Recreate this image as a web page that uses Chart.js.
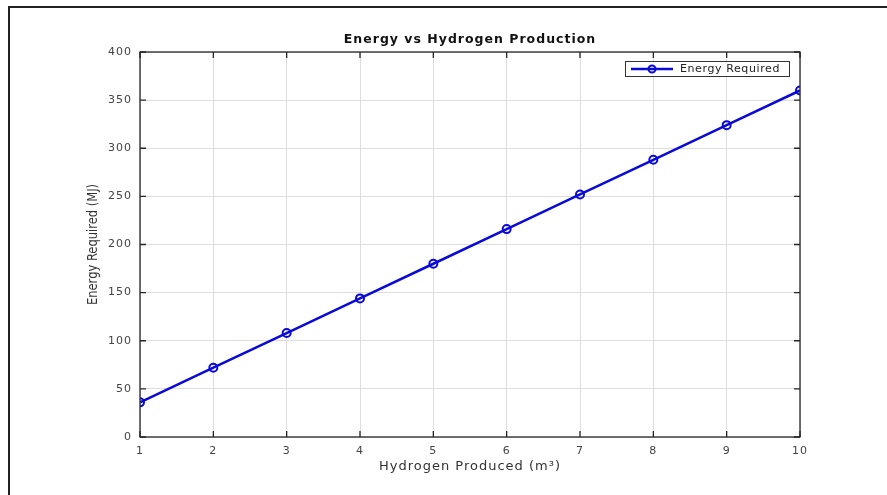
<!DOCTYPE html>
<html>
<head>
<meta charset="utf-8">
<script src="https://cdn.jsdelivr.net/npm/chart.js@4.4.1/dist/chart.umd.min.js"></script>
<style>
    html, body { margin: 0; padding: 0; background: #ffffff; }
    #wrap { width: 887px; height: 495px; }
</style>
</head>
<body>
<div id="wrap"><canvas id="energyChart" width="887" height="495"></canvas></div>
<script>
// Données
const hydrogenProduced = [1, 2, 3, 4, 5, 6, 7, 8, 9, 10];
const energyRequired = [36, 72, 108, 144, 180, 216, 252, 288, 324, 360];
const seriesLabel = 'Energy Required';
const xTicks = [1, 2, 3, 4, 5, 6, 7, 8, 9, 10];
const yTicks = [0, 50, 100, 150, 200, 250, 300, 350, 400];
const chartTitle = 'Energy vs Hydrogen Production';
const xTitle = 'Hydrogen Produced (m³)';
const yTitle = 'Energy Required (MJ)';

const lineBlue = '#0a0ad8';
const fontFamily = '"DejaVu Sans", "Liberation Sans", sans-serif';

// Cadre, graduations internes, titres et légende façon MATLAB
const matlabBox = {
    id: 'matlabBox',
    beforeDraw(chart) {
        // texte un peu étiré comme sur la figure d'origine
        chart.ctx.letterSpacing = '1px';
    },
    afterDraw(chart) {
        const ctx = chart.ctx;
        const area = chart.chartArea;
        const xs = chart.scales.x;
        const ys = chart.scales.y;
        const tickLen = 6;

        ctx.save();
        // cadre de la page (haut et gauche)
        ctx.strokeStyle = '#222';
        ctx.lineWidth = 2;
        ctx.beginPath();
        ctx.moveTo(887, 7);
        ctx.lineTo(9, 7);
        ctx.lineTo(9, 495);
        ctx.stroke();

        // boîte des axes
        ctx.strokeStyle = '#262626';
        ctx.lineWidth = 1.3;
        ctx.strokeRect(area.left, area.top, area.right - area.left, area.bottom - area.top);

        // graduations vers l'intérieur
        ctx.beginPath();
        xTicks.forEach(v => {
            const px = xs.getPixelForValue(v);
            ctx.moveTo(px, area.bottom);
            ctx.lineTo(px, area.bottom - tickLen);
            ctx.moveTo(px, area.top);
            ctx.lineTo(px, area.top + tickLen);
        });
        yTicks.forEach(v => {
            const py = ys.getPixelForValue(v);
            ctx.moveTo(area.left, py);
            ctx.lineTo(area.left + tickLen, py);
            ctx.moveTo(area.right, py);
            ctx.lineTo(area.right - tickLen, py);
        });
        ctx.stroke();

        // titre du graphique
        ctx.fillStyle = '#111';
        ctx.font = 'bold 12.5px ' + fontFamily;
        ctx.textAlign = 'center';
        ctx.textBaseline = 'middle';
        ctx.letterSpacing = '1px';
        ctx.fillText(chartTitle, (area.left + area.right) / 2, 40);

        // titre de l'axe y (vertical, étiré dans la largeur seulement)
        ctx.save();
        ctx.letterSpacing = '0px';
        ctx.fillStyle = '#333';
        ctx.font = '11.5px ' + fontFamily;
        ctx.translate(93, (area.top + area.bottom) / 2);
        ctx.rotate(-Math.PI / 2);
        ctx.scale(1, 1.2);
        ctx.fillText(yTitle, 0, 0);
        ctx.restore();

        // légende
        const lx = 625, ly = 61, lw = 164, lh = 15;
        ctx.fillStyle = '#ffffff';
        ctx.fillRect(lx, ly, lw, lh);
        ctx.strokeStyle = '#333';
        ctx.lineWidth = 1;
        ctx.strokeRect(lx + 0.5, ly + 0.5, lw, lh);
        const cy = ly + lh / 2 + 0.5;
        ctx.strokeStyle = lineBlue;
        ctx.lineWidth = 2.5;
        ctx.beginPath();
        ctx.moveTo(lx + 6, cy);
        ctx.lineTo(lx + 48, cy);
        ctx.stroke();
        ctx.lineWidth = 2;
        ctx.beginPath();
        ctx.arc(lx + 27, cy, 3.5, 0, Math.PI * 2);
        ctx.stroke();
        ctx.fillStyle = '#222';
        ctx.font = '11px ' + fontFamily;
        ctx.letterSpacing = '0.6px';
        ctx.textAlign = 'left';
        ctx.fillText(seriesLabel, lx + 55, cy);
        ctx.restore();
    }
};

const points = hydrogenProduced.map((h, i) => ({ x: h, y: energyRequired[i] }));

const ctx = document.getElementById('energyChart').getContext('2d');
new Chart(ctx, {
    type: 'line',
    data: {
        datasets: [{
            label: seriesLabel,
            data: points,
            borderColor: lineBlue,
            borderWidth: 2.5,
            backgroundColor: 'rgba(0,0,0,0)',
            pointBorderColor: lineBlue,
            pointBackgroundColor: 'rgba(0,0,0,0)',
            pointBorderWidth: 2,
            pointRadius: 4,
            tension: 0,
            fill: false
        }]
    },
    options: {
        responsive: false,
        animation: false,
        layout: { padding: { left: 0, right: 87, top: 52, bottom: 0 } },
        plugins: {
            legend: { display: false },
            tooltip: { enabled: false },
            title: { display: false }
        },
        scales: {
            x: {
                type: 'linear',
                min: 1,
                max: 10,
                afterFit(scale) { scale.height = 58; },
                afterBuildTicks(scale) { scale.ticks = xTicks.map(v => ({ value: v })); },
                grid: { color: '#dedede', lineWidth: 1, drawTicks: false },
                border: { display: false },
                ticks: {
                    color: '#444',
                    padding: 8,
                    font: { family: fontFamily, size: 11 }
                },
                title: {
                    display: true,
                    text: xTitle,
                    color: '#333',
                    font: { family: fontFamily, size: 13 },
                    padding: { top: 0, bottom: 21 }
                }
            },
            y: {
                min: 0,
                max: 400,
                afterFit(scale) { scale.width = 140; },
                afterBuildTicks(scale) { scale.ticks = yTicks.map(v => ({ value: v })); },
                grid: { color: '#dedede', lineWidth: 1, drawTicks: false },
                border: { display: false },
                ticks: {
                    color: '#444',
                    padding: 8,
                    font: { family: fontFamily, size: 11 }
                },
                title: { display: false }
            }
        }
    },
    plugins: [matlabBox]
});
</script>
</body>
</html>
